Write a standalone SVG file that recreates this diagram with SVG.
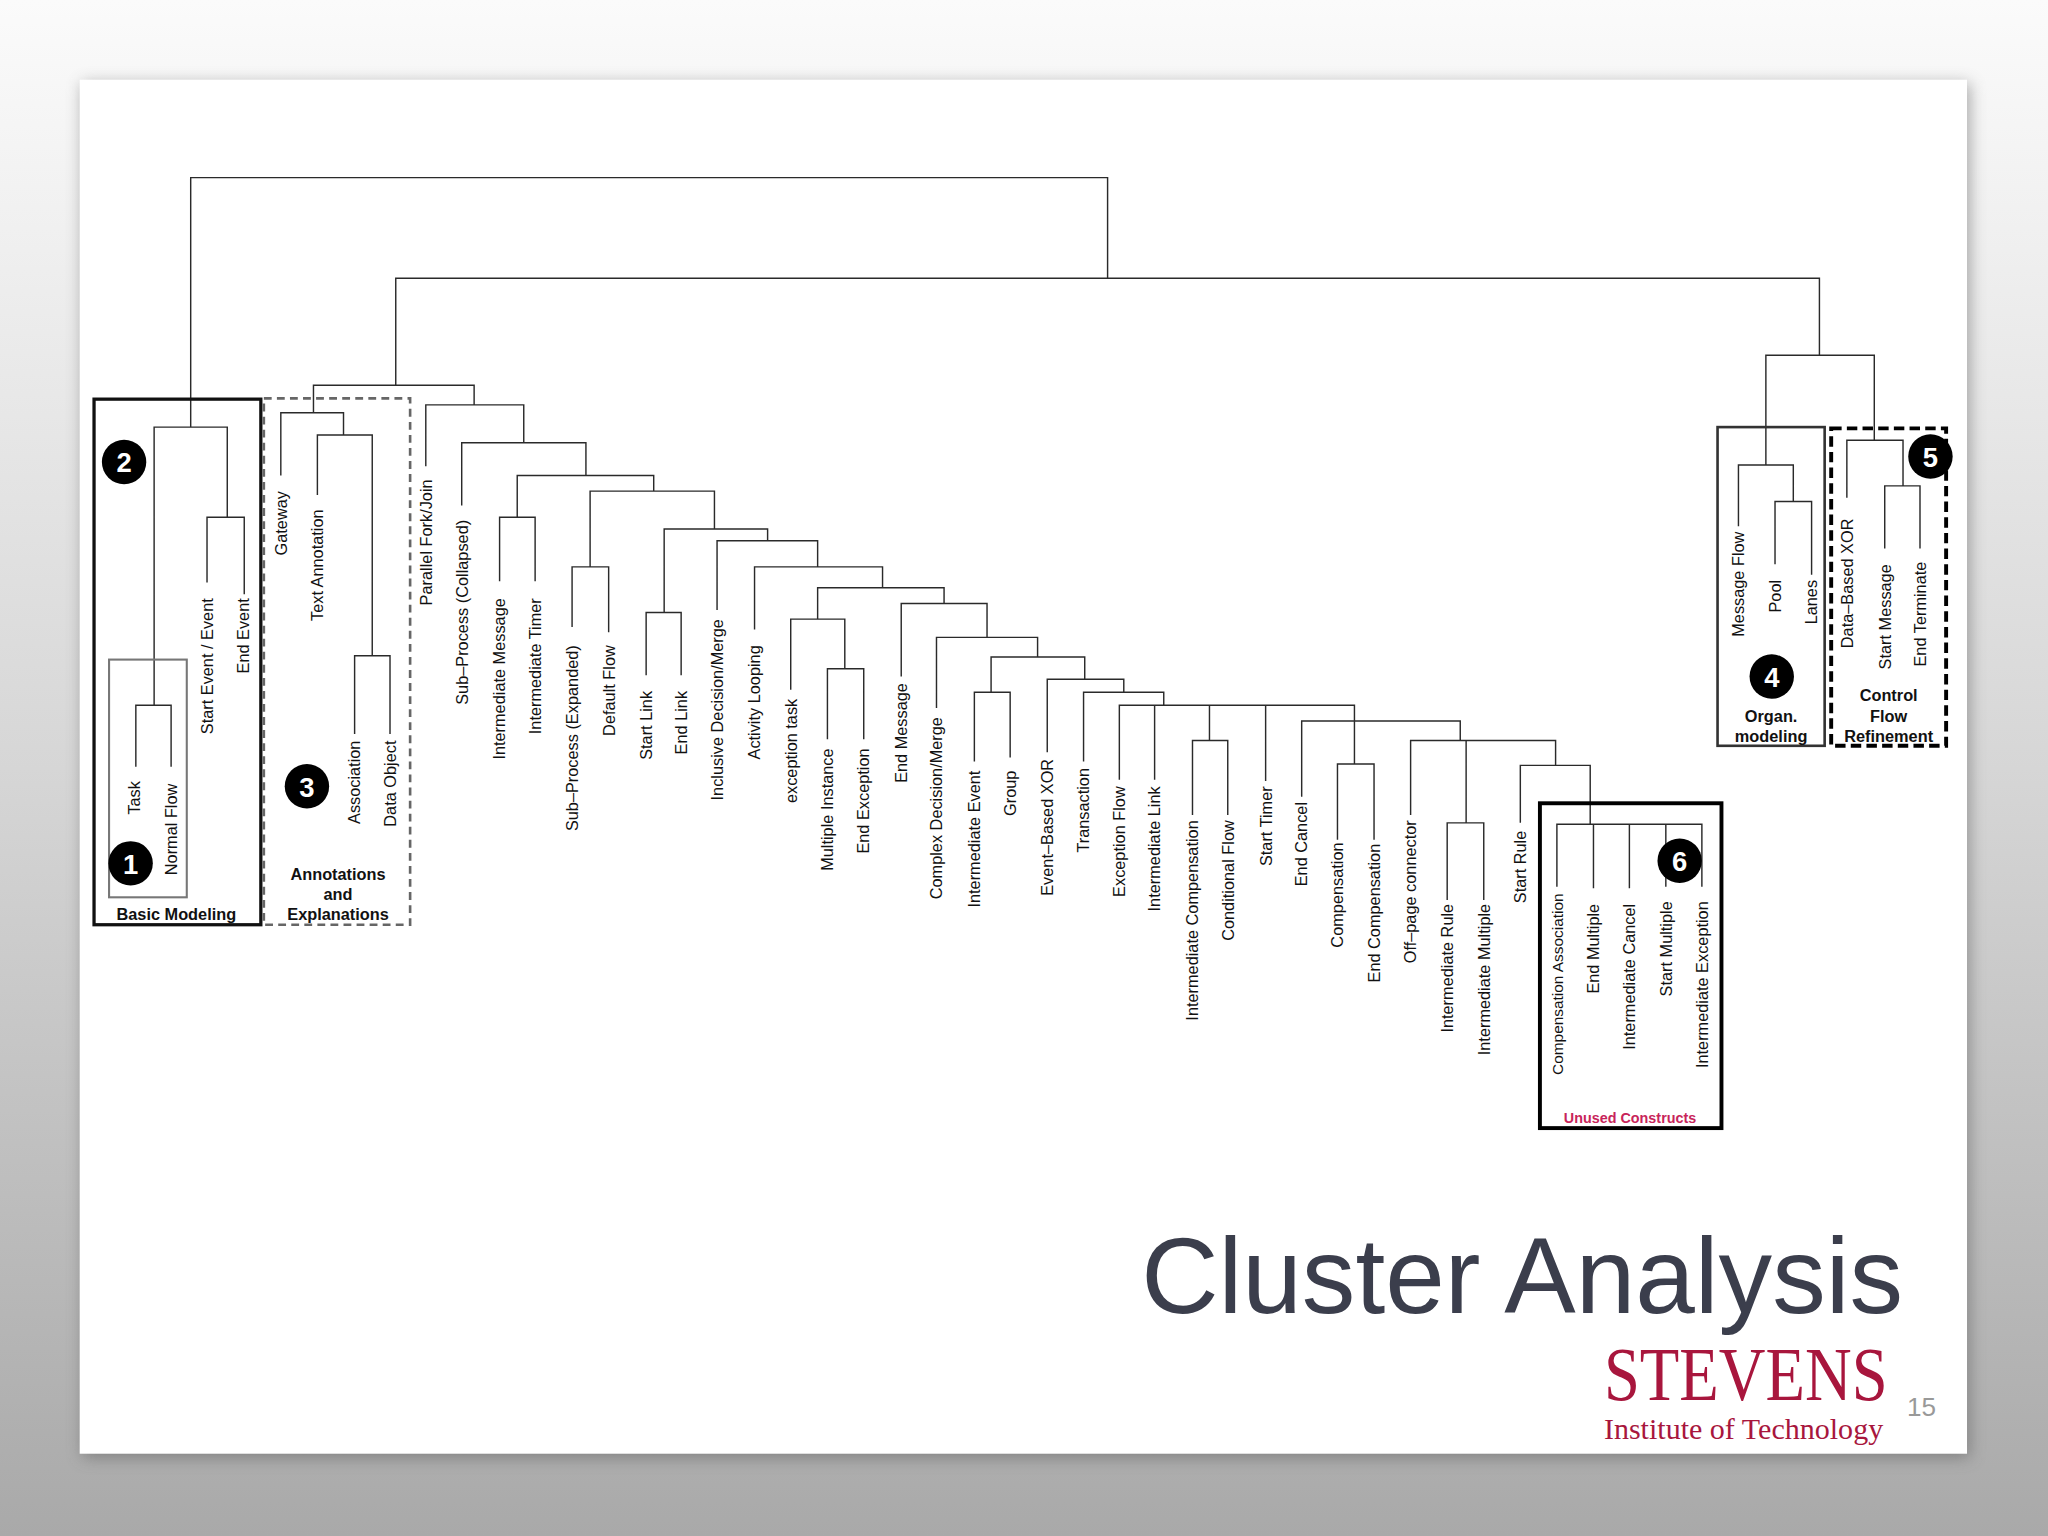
<svg xmlns="http://www.w3.org/2000/svg" width="2048" height="1536" viewBox="0 0 2048 1536">
<defs>
<linearGradient id="bg" x1="0" y1="0" x2="0" y2="1"><stop offset="0" stop-color="#fbfbfb"/><stop offset="0.5" stop-color="#d6d6d6"/><stop offset="1" stop-color="#a9a9a9"/></linearGradient>
<filter id="sh" x="-5%" y="-5%" width="110%" height="110%"><feGaussianBlur stdDeviation="6"/></filter>
<style>
.c{fill:none;stroke:#2a2a2a;stroke-width:1.1}
.l{font-family:"Liberation Sans",Arial,sans-serif;font-size:12.5px;fill:#111;text-anchor:end}
.b{font-family:"Liberation Sans",Arial,sans-serif;font-size:12.5px;font-weight:bold;fill:#111;text-anchor:middle}
.n{font-family:"Liberation Sans",Arial,sans-serif;font-size:21px;font-weight:bold;fill:#fff;text-anchor:middle}
</style>
</defs>
<rect width="2048" height="1536" fill="url(#bg)"/>
<g transform="scale(1.306122)">
<rect x="63" y="64" width="1445" height="1052" fill="#555" opacity="0.5" filter="url(#sh)"/>
<rect x="61" y="61" width="1445" height="1052" fill="#fff"/>
<g id="connectors">
<path class="c" d="M146,327 V136 H848 V213 M118,540 V327 H174 V396 M104,587 V540 H131 V587 M158.5,446 V396 H187 V455
M303,295 V213 H1393 V272 M1352,356 V272 H1435 V337 M1331,403 V356 H1373 V384 M1359,432 V384 H1387 V440 M1414,381 V337 H1457 V372 M1443,420 V372 H1470 V420
M240,316 V295 H363 V310 M215,364 V316 H263 V333 M243,379 V333 H285 V502 M271.5,562 V502 H298.6 V562
M326,357 V310 H401 V339 M353.5,387 V339 H448.6 V364 M396,396 V364 H500.5 V376 M382.5,445 V396 H409.7 V445 M451.8,434 V376 H547 V405 M438,480 V434 H466 V484 M508.5,469 V405 H587.7 V414 M494.7,517 V469 H521.5 V517 M549,467 V414 H626 V434 M577.7,482 V434 H675.7 V450 M626,474 V450 H722.8 V462 M605.4,528 V474 H646.8 V512 M633.5,566 V512 H661.3 V566 M690,518 V462 H755.7 V488 M717,542 V488 H794.4 V503 M758.8,530 V503 H830.5 V520 M746,583 V530 H773.4 V580 M801.8,576 V520 H860.4 V530 M829.6,583 V530 H891 V540 M857,597 V540 H1037 V552 M884,540 V597 M926,540 V567 M913,624 V567 H940 V624 M969,540 V598 M996.6,610 V552 H1118 V567 M1037,552 V585 M1024,643 V585 H1052 V643 M1080,624 V567 H1191 V586 M1122.5,567 V630 M1108,689 V630 H1136 V689 M1164,630 V586 H1217.5 V631 M1192,679 V631 H1303 V679 M1220,631 V680 M1247.5,631 V680 M1275.4,631 V679"/>
</g>
<g id="labels">
<text class="l" transform="translate(107.5,598) rotate(-90)">Task</text>
<text class="l" transform="translate(135.5,600) rotate(-90)">Normal Flow</text>
<text class="l" transform="translate(163,458) rotate(-90)">Start Event / Event</text>
<text class="l" transform="translate(191,458) rotate(-90)">End Event</text>
<text class="l" transform="translate(219.5,376) rotate(-90)">Gateway</text>
<text class="l" transform="translate(247.5,390) rotate(-90)">Text Annotation</text>
<text class="l" transform="translate(276,567) rotate(-90)">Association</text>
<text class="l" transform="translate(303,567) rotate(-90)">Data Object</text>
<text class="l" transform="translate(330.5,367) rotate(-90)">Parallel Fork/Join</text>
<text class="l" transform="translate(358,398) rotate(-90)">Sub–Process (Collapsed)</text>
<text class="l" transform="translate(387,458) rotate(-90)">Intermediate Message</text>
<text class="l" transform="translate(414,458) rotate(-90)">Intermediate Timer</text>
<text class="l" transform="translate(442.5,494) rotate(-90)">Sub–Process (Expanded)</text>
<text class="l" transform="translate(470.5,494) rotate(-90)">Default Flow</text>
<text class="l" transform="translate(499,529) rotate(-90)">Start Link</text>
<text class="l" transform="translate(526,529) rotate(-90)">End Link</text>
<text class="l" transform="translate(553.5,474) rotate(-90)">Inclusive Decision/Merge</text>
<text class="l" transform="translate(582,494) rotate(-90)">Activity Looping</text>
<text class="l" transform="translate(610,535) rotate(-90)">exception task</text>
<text class="l" transform="translate(638,573) rotate(-90)">Multiple Instance</text>
<text class="l" transform="translate(665.5,573) rotate(-90)">End Exception</text>
<text class="l" transform="translate(694.5,523) rotate(-90)">End Message</text>
<text class="l" transform="translate(721.5,549) rotate(-90)">Complex Decision/Merge</text>
<text class="l" transform="translate(750.5,590) rotate(-90)">Intermediate Event</text>
<text class="l" transform="translate(778,590) rotate(-90)">Group</text>
<text class="l" transform="translate(806,581) rotate(-90)">Event–Based XOR</text>
<text class="l" transform="translate(834,588) rotate(-90)">Transaction</text>
<text class="l" transform="translate(861.5,602) rotate(-90)">Exception Flow</text>
<text class="l" transform="translate(888.5,602) rotate(-90)">Intermediate Link</text>
<text class="l" transform="translate(917.5,628) rotate(-90)">Intermediate Compensation</text>
<text class="l" transform="translate(944.5,628) rotate(-90)">Conditional Flow</text>
<text class="l" transform="translate(973.5,602) rotate(-90)">Start Timer</text>
<text class="l" transform="translate(1001,614) rotate(-90)">End Cancel</text>
<text class="l" transform="translate(1028.5,645) rotate(-90)">Compensation</text>
<text class="l" transform="translate(1056.5,646) rotate(-90)">End Compensation</text>
<text class="l" transform="translate(1084.5,628) rotate(-90)">Off–page connector</text>
<text class="l" transform="translate(1112.5,692) rotate(-90)">Intermediate Rule</text>
<text class="l" transform="translate(1140.5,692) rotate(-90)">Intermediate Multiple</text>
<text class="l" transform="translate(1168.5,636) rotate(-90)">Start Rule</text>
<text class="l" transform="translate(1196.5,684) rotate(-90)" style="font-size:11.8px">Compensation Association</text>
<text class="l" transform="translate(1224.5,692) rotate(-90)">End Multiple</text>
<text class="l" transform="translate(1252,692) rotate(-90)">Intermediate Cancel</text>
<text class="l" transform="translate(1280,690) rotate(-90)">Start Multiple</text>
<text class="l" transform="translate(1307.5,690) rotate(-90)">Intermediate Exception</text>
<text class="l" transform="translate(1335.5,407) rotate(-90)">Message Flow</text>
<text class="l" transform="translate(1363.5,444) rotate(-90)">Pool</text>
<text class="l" transform="translate(1391.5,444) rotate(-90)">Lanes</text>
<text class="l" transform="translate(1418.5,397) rotate(-90)">Data–Based XOR</text>
<text class="l" transform="translate(1447.5,432) rotate(-90)">Start Message</text>
<text class="l" transform="translate(1474.5,430) rotate(-90)">End Terminate</text>
</g>
<g id="cluster1">
<rect x="83.5" y="505" width="59.5" height="182" fill="none" stroke="#777" stroke-width="1.6"/>
<circle cx="100" cy="661" r="17" fill="#000"/><text class="n" x="100" y="669">1</text>
</g>
<g id="cluster2">
<rect x="72" y="305.6" width="127.7" height="402.4" fill="none" stroke="#111" stroke-width="2.5"/>
<circle cx="95" cy="353.7" r="17" fill="#000"/><text class="n" x="95" y="361.5">2</text>
<text class="b" x="135" y="704">Basic Modeling</text>
</g>
<g id="cluster3">
<rect x="202" y="305" width="112" height="403" fill="none" stroke="#666" stroke-width="2" stroke-dasharray="6 4"/>
<circle cx="235" cy="602" r="17" fill="#000"/><text class="n" x="235" y="610">3</text>
<text class="b" x="258.8" y="674">Annotations</text>
<text class="b" x="258.8" y="689">and</text>
<text class="b" x="258.8" y="704">Explanations</text>
</g>
<g id="cluster4">
<rect x="1315" y="327" width="82" height="244" fill="none" stroke="#333" stroke-width="2"/>
<circle cx="1356.5" cy="518" r="17" fill="#000"/><text class="n" x="1356.5" y="526">4</text>
<text class="b" x="1356" y="553">Organ.</text>
<text class="b" x="1356" y="568">modeling</text>
</g>
<g id="cluster5">
<rect x="1402" y="328" width="88" height="243" fill="none" stroke="#000" stroke-width="3" stroke-dasharray="8 4"/>
<circle cx="1478" cy="349.5" r="17" fill="#000"/><text class="n" x="1478" y="357.5">5</text>
<text class="b" x="1446" y="537">Control</text>
<text class="b" x="1446" y="553">Flow</text>
<text class="b" x="1446" y="568">Refinement</text>
</g>
<g id="cluster6">
<rect x="1179" y="615" width="139" height="248.7" fill="none" stroke="#000" stroke-width="3"/>
<circle cx="1286" cy="659" r="17" fill="#000"/><text class="n" x="1286" y="667">6</text>
<text class="b" x="1248" y="860" style="fill:#c8245a;font-size:11px">Unused Constructs</text>
</g>
<g id="footer">
<text x="1457" y="1005" text-anchor="end" font-family="Liberation Sans, Arial, sans-serif" font-size="82" fill="#3b3e4c">Cluster Analysis</text>
<text transform="translate(1228,1072) scale(1,1.18)" font-family="Liberation Serif, Times New Roman, serif" font-size="49.5" fill="#a8163d">STEVENS</text>
<text x="1228" y="1102" font-family="Liberation Serif, Times New Roman, serif" font-size="23" fill="#a8163d">Institute of Technology</text>
<text x="1460" y="1084" font-family="Liberation Sans, Arial, sans-serif" font-size="20" fill="#999">15</text>
</g>
</g>
</svg>
